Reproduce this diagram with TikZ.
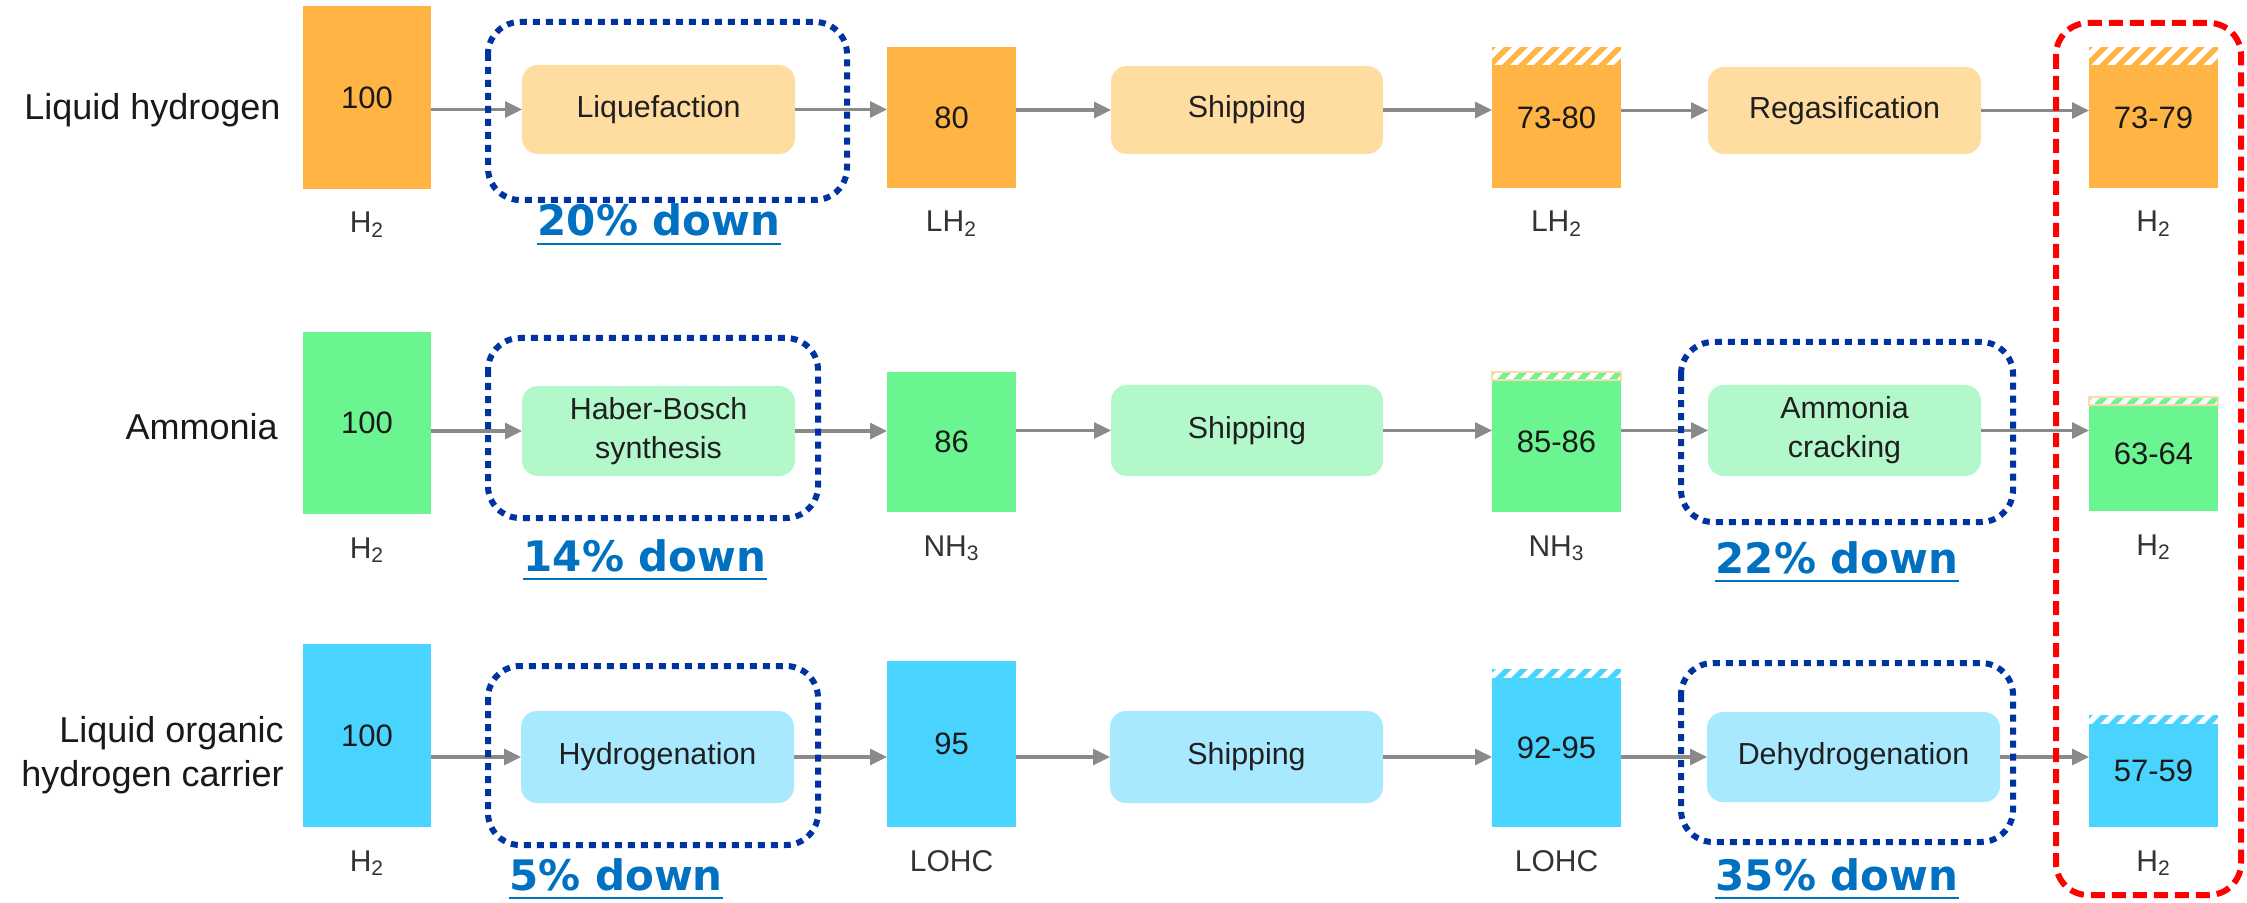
\documentclass[tikz,border=0pt]{standalone}
\usepackage{fontspec}
\setmainfont{Liberation Sans}
\newfontfamily\downfont{DejaVu Sans}
\usetikzlibrary{arrows.meta}
\definecolor{orB}{HTML}{FFB443}
\definecolor{orP}{HTML}{FFDCA0}
\definecolor{grB}{HTML}{6AF590}
\definecolor{grP}{HTML}{B3F8CA}
\definecolor{cyB}{HTML}{48D4FF}
\definecolor{cyP}{HTML}{A8E9FF}
\definecolor{dotblue}{HTML}{0033A0}
\definecolor{dashred}{HTML}{FF0000}
\definecolor{downblue}{HTML}{0070C0}
\definecolor{arrgray}{HTML}{8A8A8A}
\definecolor{peach}{HTML}{FFD9A8}
\tikzset{
  barbox/.style={inner sep=0pt, outer sep=0pt, draw=none, font=\fontsize{15.5}{18}\selectfont, text=black!90},
  procbox/.style={inner sep=0pt, outer sep=0pt, rounded corners=8pt, align=center, font=\fontsize{15.2}{19.5}\selectfont, text=black!88},
  rowlabel/.style={anchor=east, align=right, inner sep=0pt, font=\fontsize{18}{22}\selectfont, text=black!90},
  chemlabel/.style={anchor=base, inner sep=0pt, font=\fontsize{15}{18}\selectfont, text=black!80},
  downlabel/.style={anchor=base, inner sep=0pt, font=\downfont\bfseries\fontsize{21}{25}\selectfont, text=downblue},
  underl/.style={draw=downblue, line width=1.4pt},
  flow/.style={draw=arrgray, line width=1.6pt, -{Triangle[length=8.5pt,width=8pt]}},
  dotframe/.style={draw=dotblue, line width=3pt, dash pattern=on 3.5pt off 3pt, rounded corners=16pt},
  redframe/.style={draw=dashred, line width=3pt, dash pattern=on 7pt off 3.5pt, rounded corners=16pt},
  hatchline/.style={draw=white, line width=2.8pt},
}
\newcommand\mkbar[7]{%
  \pgfmathsetmacro\mybw{(#4-#2)*0.5}%
  \pgfmathsetmacro\mybh{(#5-#3)*0.5}%
  \node[barbox, fill=#6, minimum width=\mybw pt, minimum height=\mybh pt] (#1) at ({(#2+#4)/2},{(#3+#5)/2}) {#7};}
\newcommand\mkproc[7]{%
  \pgfmathsetmacro\mybw{(#4-#2)*0.5}%
  \pgfmathsetmacro\mybh{(#5-#3)*0.5}%
  \node[procbox, fill=#6, minimum width=\mybw pt, minimum height=\mybh pt] (#1) at ({(#2+#4)/2},{(#3+#5)/2}) {#7};}
\newcommand\mkhatch[2]{%
  \begin{scope}
    \clip (#1.north west) rectangle ([yshift=-#2*0.5pt]#1.north east);
    \foreach \k in {-3,...,9}
      \draw[hatchline] ([xshift=\k*8pt, yshift=-12pt]#1.north west) -- ++(24pt,24pt);
  \end{scope}}
\begin{document}
\begin{tikzpicture}[x=0.5pt, y=-0.5pt]
\useasboundingbox (0,0) rectangle (2247,903);

% row labels
\node[rowlabel] (lab1) at (281,110) {Liquid hydrogen};
\node[rowlabel] (lab2) at (278,427) {Ammonia};
\node[rowlabel] (lab3) at (284,755) {Liquid organic\\hydrogen carrier};

% bars
\mkbar{a1}{303}{6}{431}{189}{orB}{100}
\mkbar{a2}{887}{47}{1016}{188}{orB}{80}
\mkbar{a3}{1492}{47}{1621}{188}{orB}{73-80}
\mkbar{a4}{2089}{47}{2218}{188}{orB}{73-79}
\mkbar{b1}{303}{332}{431}{514}{grB}{100}
\mkbar{b2}{887}{372}{1016}{512}{grB}{86}
\mkbar{b3}{1492}{372}{1621}{512}{grB}{85-86}
\mkbar{b4}{2089}{397}{2218}{511}{grB}{63-64}
\mkbar{c1}{303}{644}{431}{827}{cyB}{100}
\mkbar{c2}{887}{661}{1016}{827}{cyB}{95}
\mkbar{c3}{1492}{669}{1621}{827}{cyB}{92-95}
\mkbar{c4}{2089}{715}{2218}{827}{cyB}{57-59}

% hatched tops
\mkhatch{a3}{18}
\mkhatch{a4}{18}
\mkhatch{b3}{8}
\mkhatch{b4}{8}
\mkhatch{c3}{8}
\mkhatch{c4}{8}
\draw[peach, line width=0.7pt] (b3.north west) rectangle ([yshift=-4pt]b3.north east);
\draw[peach, line width=0.7pt] (b4.north west) rectangle ([yshift=-4pt]b4.north east);

% process boxes
\mkproc{pa1}{522}{65}{795}{154}{orP}{Liquefaction}
\mkproc{pb1}{1111}{66}{1383}{154}{orP}{Shipping}
\mkproc{pc1}{1708}{67}{1981}{154}{orP}{Regasification}
\mkproc{pa2}{522}{386}{795}{476}{grP}{Haber-Bosch\\synthesis}
\mkproc{pb2}{1111}{385}{1383}{476}{grP}{Shipping}
\mkproc{pc2}{1708}{385}{1981}{476}{grP}{Ammonia\\cracking}
\mkproc{pa3}{521}{711}{794}{803}{cyP}{Hydrogenation}
\mkproc{pb3}{1110}{711}{1383}{803}{cyP}{Shipping}
\mkproc{pc3}{1707}{712}{2000}{802}{cyP}{Dehydrogenation}

% flow arrows
\draw[flow] (a1.east |- pa1.west) -- (pa1.west);
\draw[flow] (pa1.east) -- (pa1.east -| a2.west);
\draw[flow] (a2.east |- pb1.west) -- (pb1.west);
\draw[flow] (pb1.east) -- (pb1.east -| a3.west);
\draw[flow] (a3.east |- pc1.west) -- (pc1.west);
\draw[flow] (pc1.east) -- (pc1.east -| a4.west);
\draw[flow] (b1.east |- pa2.west) -- (pa2.west);
\draw[flow] (pa2.east) -- (pa2.east -| b2.west);
\draw[flow] (b2.east |- pb2.west) -- (pb2.west);
\draw[flow] (pb2.east) -- (pb2.east -| b3.west);
\draw[flow] (b3.east |- pc2.west) -- (pc2.west);
\draw[flow] (pc2.east) -- (pc2.east -| b4.west);
\draw[flow] (c1.east |- pa3.west) -- (pa3.west);
\draw[flow] (pa3.east) -- (pa3.east -| c2.west);
\draw[flow] (c2.east |- pb3.west) -- (pb3.west);
\draw[flow] (pb3.east) -- (pb3.east -| c3.west);
\draw[flow] (c3.east |- pc3.west) -- (pc3.west);
\draw[flow] (pc3.east) -- (pc3.east -| c4.west);

% chemical labels
\node[chemlabel] (la1) at ([yshift=-22pt]a1.south) {H\textsubscript{2}};
\node[chemlabel] (la2) at ([yshift=-22pt]a2.south) {LH\textsubscript{2}};
\node[chemlabel] (la3) at ([yshift=-22pt]a3.south) {LH\textsubscript{2}};
\node[chemlabel] (la4) at ([yshift=-22pt]a4.south) {H\textsubscript{2}};
\node[chemlabel] (lb1) at ([yshift=-22pt]b1.south) {H\textsubscript{2}};
\node[chemlabel] (lb2) at ([yshift=-22pt]b2.south) {NH\textsubscript{3}};
\node[chemlabel] (lb3) at ([yshift=-22pt]b3.south) {NH\textsubscript{3}};
\node[chemlabel] (lb4) at ([yshift=-22pt]b4.south) {H\textsubscript{2}};
\node[chemlabel] (lc1) at ([yshift=-22pt]c1.south) {H\textsubscript{2}};
\node[chemlabel] (lc2) at ([yshift=-22pt]c2.south) {LOHC};
\node[chemlabel] (lc3) at ([yshift=-22pt]c3.south) {LOHC};
\node[chemlabel] (lc4) at ([yshift=-22pt]c4.south) {H\textsubscript{2}};

% dotted highlight frames
\draw[dotframe] (488,22) rectangle (847,200);
\draw[dotframe] (488,338) rectangle (818,518);
\draw[dotframe] (488,666) rectangle (818,845);
\draw[dotframe] (1681,342) rectangle (2013,522);
\draw[dotframe] (1681,663) rectangle (2013,842);
% red dashed frame
\draw[redframe] (2056,23) rectangle (2241,895);

% loss labels
\node[downlabel] (d1) at (659,236) {20\% down};
\node[downlabel] (d2) at (645,571) {14\% down};
\node[downlabel] (d3) at (1837,573) {22\% down};
\node[downlabel] (d4) at (616,890) {5\% down};
\node[downlabel] (d5) at (1837,890) {35\% down};
\foreach \d in {d1,d2,d3,d4,d5}
  \draw[underl] ([yshift=-4pt]\d.base west) -- ([yshift=-4pt]\d.base east);
\end{tikzpicture}
\end{document}
